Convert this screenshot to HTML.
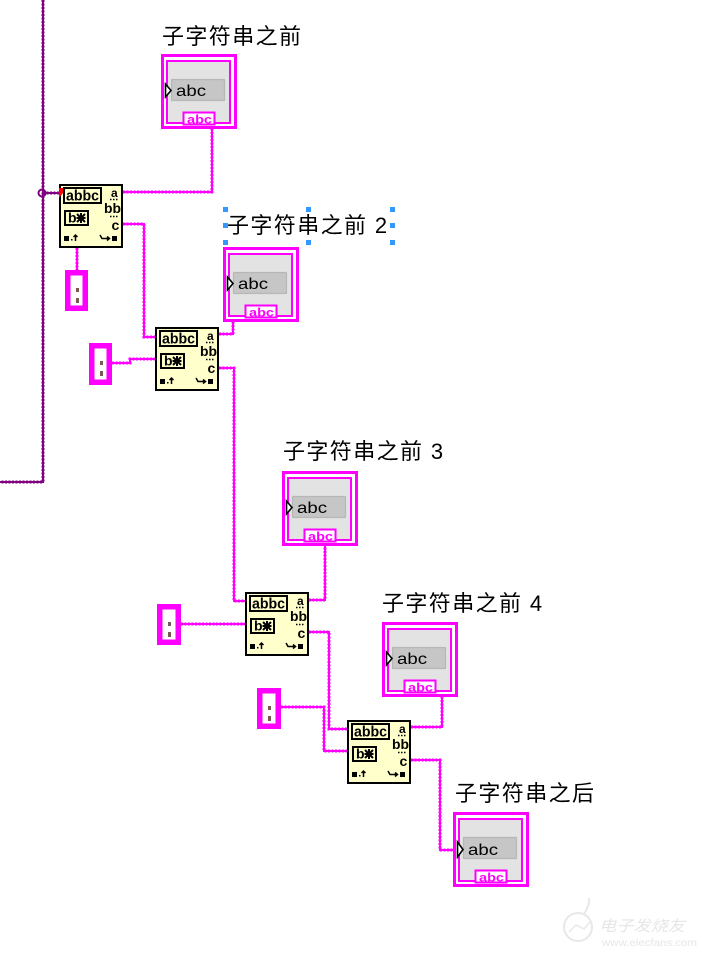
<!DOCTYPE html>
<html><head><meta charset="utf-8"><style>
html,body{margin:0;padding:0;background:#fff;}
svg{display:block;}
.m{fill:none;stroke:#ff00ff;stroke-width:3;stroke-dasharray:2 1.5;}
.ms{fill:none;stroke:#ff00ff;stroke-width:2;}
.p{fill:none;stroke:#800080;stroke-width:3;stroke-dasharray:2 1.5;}
.ps{fill:none;stroke:#800080;stroke-width:2;}
.lbl{font-family:"Liberation Sans","Noto Sans CJK SC",sans-serif;font-size:22px;letter-spacing:1.4px;fill:#000;}
.nt{font-family:"Liberation Sans",sans-serif;font-weight:bold;fill:#000;}
.it{font-family:"Liberation Sans",sans-serif;fill:#000;}
.tg{font-family:"Liberation Sans",sans-serif;fill:#ff00ff;font-weight:bold;}
</style></head><body>
<svg width="707" height="959" viewBox="0 0 707 959" xmlns="http://www.w3.org/2000/svg">
<rect width="707" height="959" fill="#fff"/>

<!-- purple wire -->
<path class="p" d="M43 0 V482 H0"/>
<path class="ps" d="M43 0 V482 H0"/>
<path class="p" d="M43 193 H59"/>
<path class="ps" d="M43 193 H59"/>
<circle cx="42" cy="193" r="3.5" fill="none" stroke="#800080" stroke-width="2"/>

<!-- magenta wires -->
<g>
<path class="m" d="M77 248 V270"/><path class="ms" d="M77 248 V270"/>
<path class="m" d="M123 192 H212 V129"/><path class="ms" d="M123 192 H212 V129"/>
<path class="m" d="M123 224 H144 V337 H155"/><path class="ms" d="M123 224 H144 V337 H155"/>
<path class="m" d="M112 363 H130 V359 H155"/><path class="ms" d="M112 363 H130 V359 H155"/>
<path class="m" d="M219 334 H233 V322"/><path class="ms" d="M219 334 H233 V322"/>
<path class="m" d="M219 368 H234 V601 H245"/><path class="ms" d="M219 368 H234 V601 H245"/>
<path class="m" d="M181 624 H245"/><path class="ms" d="M181 624 H245"/>
<path class="m" d="M309 600 H325 V545"/><path class="ms" d="M309 600 H325 V545"/>
<path class="m" d="M309 632 H329 V729 H347"/><path class="ms" d="M309 632 H329 V729 H347"/>
<path class="m" d="M281 707 H324 V751 H347"/><path class="ms" d="M281 707 H324 V751 H347"/>
<path class="m" d="M411 727 H442 V697"/><path class="ms" d="M411 727 H442 V697"/>
<path class="m" d="M411 760 H440 V850 H457"/><path class="ms" d="M411 760 H440 V850 H457"/>
</g>

<!-- labels -->
<text class="lbl" x="162" y="44">子字符串之前</text>
<text class="lbl" x="227" y="233">子字符串之前 2</text>
<text class="lbl" x="283" y="459">子字符串之前 3</text>
<text class="lbl" x="382" y="611">子字符串之前 4</text>
<text class="lbl" x="455" y="801">子字符串之后</text>

<!-- selection handles -->
<g fill="#3399ff">
<rect x="223" y="207" width="5" height="5"/><rect x="306" y="207" width="5" height="5"/><rect x="390" y="207" width="5" height="5"/>
<rect x="223" y="223" width="5" height="5"/><rect x="390" y="223" width="5" height="5"/>
<rect x="223" y="240" width="5" height="5"/><rect x="306" y="240" width="5" height="5"/><rect x="390" y="240" width="5" height="5"/>
</g>

<!-- indicators -->
<g transform="translate(161,54)">
<rect x="1.5" y="1.5" width="73" height="72" fill="#fff" stroke="#ff00ff" stroke-width="3"/>
<rect x="6" y="7" width="63" height="62" fill="#e3e3e3" stroke="#ff00ff" stroke-width="2"/>
<rect x="10.5" y="25.5" width="53" height="21" fill="#c6c6c6" stroke="#9a9a9a" stroke-width="1.2" stroke-dasharray="1 1"/>
<text class="it" x="15" y="42" font-size="16" textLength="30" lengthAdjust="spacingAndGlyphs">abc</text>
<path d="M4.5 30 L10 36.5 L4.5 43 Z" fill="#fff" stroke="#000" stroke-width="1.6"/>
<rect x="22.5" y="58.5" width="31" height="12" fill="#fff" stroke="#ff00ff" stroke-width="2"/>
<text class="tg" x="26" y="69.5" font-size="12" textLength="25" lengthAdjust="spacingAndGlyphs">abc</text>
</g>
<g transform="translate(223,247)">
<rect x="1.5" y="1.5" width="73" height="72" fill="#fff" stroke="#ff00ff" stroke-width="3"/>
<rect x="6" y="7" width="63" height="62" fill="#e3e3e3" stroke="#ff00ff" stroke-width="2"/>
<rect x="10.5" y="25.5" width="53" height="21" fill="#c6c6c6" stroke="#9a9a9a" stroke-width="1.2" stroke-dasharray="1 1"/>
<text class="it" x="15" y="42" font-size="16" textLength="30" lengthAdjust="spacingAndGlyphs">abc</text>
<path d="M4.5 30 L10 36.5 L4.5 43 Z" fill="#fff" stroke="#000" stroke-width="1.6"/>
<rect x="22.5" y="58.5" width="31" height="12" fill="#fff" stroke="#ff00ff" stroke-width="2"/>
<text class="tg" x="26" y="69.5" font-size="12" textLength="25" lengthAdjust="spacingAndGlyphs">abc</text>
</g>
<g transform="translate(282,471)">
<rect x="1.5" y="1.5" width="73" height="72" fill="#fff" stroke="#ff00ff" stroke-width="3"/>
<rect x="6" y="7" width="63" height="62" fill="#e3e3e3" stroke="#ff00ff" stroke-width="2"/>
<rect x="10.5" y="25.5" width="53" height="21" fill="#c6c6c6" stroke="#9a9a9a" stroke-width="1.2" stroke-dasharray="1 1"/>
<text class="it" x="15" y="42" font-size="16" textLength="30" lengthAdjust="spacingAndGlyphs">abc</text>
<path d="M4.5 30 L10 36.5 L4.5 43 Z" fill="#fff" stroke="#000" stroke-width="1.6"/>
<rect x="22.5" y="58.5" width="31" height="12" fill="#fff" stroke="#ff00ff" stroke-width="2"/>
<text class="tg" x="26" y="69.5" font-size="12" textLength="25" lengthAdjust="spacingAndGlyphs">abc</text>
</g>
<g transform="translate(382,622)">
<rect x="1.5" y="1.5" width="73" height="72" fill="#fff" stroke="#ff00ff" stroke-width="3"/>
<rect x="6" y="7" width="63" height="62" fill="#e3e3e3" stroke="#ff00ff" stroke-width="2"/>
<rect x="10.5" y="25.5" width="53" height="21" fill="#c6c6c6" stroke="#9a9a9a" stroke-width="1.2" stroke-dasharray="1 1"/>
<text class="it" x="15" y="42" font-size="16" textLength="30" lengthAdjust="spacingAndGlyphs">abc</text>
<path d="M4.5 30 L10 36.5 L4.5 43 Z" fill="#fff" stroke="#000" stroke-width="1.6"/>
<rect x="22.5" y="58.5" width="31" height="12" fill="#fff" stroke="#ff00ff" stroke-width="2"/>
<text class="tg" x="26" y="69.5" font-size="12" textLength="25" lengthAdjust="spacingAndGlyphs">abc</text>
</g>
<g transform="translate(453,812)">
<rect x="1.5" y="1.5" width="73" height="72" fill="#fff" stroke="#ff00ff" stroke-width="3"/>
<rect x="6" y="7" width="63" height="62" fill="#e3e3e3" stroke="#ff00ff" stroke-width="2"/>
<rect x="10.5" y="25.5" width="53" height="21" fill="#c6c6c6" stroke="#9a9a9a" stroke-width="1.2" stroke-dasharray="1 1"/>
<text class="it" x="15" y="43" font-size="16" textLength="30" lengthAdjust="spacingAndGlyphs">abc</text>
<path d="M4.5 30 L10 37.5 L4.5 45 Z" fill="#fff" stroke="#000" stroke-width="1.6"/>
<rect x="22.5" y="58.5" width="31" height="12" fill="#fff" stroke="#ff00ff" stroke-width="2"/>
<text class="tg" x="26" y="69.5" font-size="12" textLength="25" lengthAdjust="spacingAndGlyphs">abc</text>
</g>

<!-- constants -->
<g fill="none" stroke="#ff00ff" stroke-width="5.5">
<rect x="67.75" y="272.75" width="17.5" height="35.5"/>
<rect x="91.75" y="345.75" width="17.5" height="36.5"/>
<rect x="159.75" y="606.75" width="18.5" height="35.5"/>
<rect x="259.75" y="690.75" width="18.5" height="35.5"/>
</g>
<g fill="#7a5a50">
<rect x="76" y="288" width="3" height="4"/><rect x="76" y="298" width="3" height="5"/>
<rect x="100" y="361" width="3" height="4"/><rect x="100" y="371" width="3" height="5"/>
<rect x="168" y="622" width="3" height="4"/><rect x="168" y="632" width="3" height="5"/>
<rect x="268" y="706" width="3" height="4"/><rect x="268" y="716" width="3" height="5"/>
</g>

<!-- nodes -->
<g transform="translate(59,184)">
<rect x="1" y="1" width="62" height="62" fill="#ffffcc" stroke="#000" stroke-width="2"/>
<rect x="5" y="4" width="37" height="15" fill="none" stroke="#000" stroke-width="2"/>
<text class="nt" x="7" y="16.5" font-size="15" textLength="33" lengthAdjust="spacingAndGlyphs">abbc</text>
<rect x="6" y="27" width="23" height="14" fill="none" stroke="#000" stroke-width="2"/>
<text class="nt" x="9" y="38.5" font-size="14">b</text>
<path d="M18 30 L26 38 M26 30 L18 38 M22 29 V39 M17.5 34 H26.5" stroke="#000" stroke-width="2" fill="none"/>
<text class="nt" x="52" y="13" font-size="12">a</text>
<path d="M51 15.5 h1.5 M54 15.5 h1.5 M57 15.5 h1.5" stroke="#000" stroke-width="1.5"/>
<text class="nt" x="45" y="29" font-size="14" textLength="17" lengthAdjust="spacingAndGlyphs">bb</text>
<path d="M51 32.5 h1.5 M54 32.5 h1.5 M57 32.5 h1.5" stroke="#000" stroke-width="1.5"/>
<text class="nt" x="52.5" y="46" font-size="14">c</text>
<rect x="5" y="52" width="5" height="5" fill="#000"/>
<rect x="12" y="55" width="1.5" height="1.5" fill="#000"/>
<path d="M16.5 57 V51 M14.5 53 L16.5 51 L18.5 53" stroke="#000" stroke-width="1.5" fill="none"/>
<path d="M41 51 L43 54.5 H50 M48 52.5 L50.5 54.5 L48 56.5" stroke="#000" stroke-width="1.5" fill="none"/>
<rect x="53" y="52" width="5" height="5" fill="#000"/>
</g>
<path d="M59 188 H63 V193 L59 198 Z" fill="#ff0000"/>

<g transform="translate(155,327)">
<rect x="1" y="1" width="62" height="62" fill="#ffffcc" stroke="#000" stroke-width="2"/>
<rect x="5" y="4" width="37" height="15" fill="none" stroke="#000" stroke-width="2"/>
<text class="nt" x="7" y="16.5" font-size="15" textLength="33" lengthAdjust="spacingAndGlyphs">abbc</text>
<rect x="6" y="27" width="23" height="14" fill="none" stroke="#000" stroke-width="2"/>
<text class="nt" x="9" y="38.5" font-size="14">b</text>
<path d="M18 30 L26 38 M26 30 L18 38 M22 29 V39 M17.5 34 H26.5" stroke="#000" stroke-width="2" fill="none"/>
<text class="nt" x="52" y="13" font-size="12">a</text>
<path d="M51 15.5 h1.5 M54 15.5 h1.5 M57 15.5 h1.5" stroke="#000" stroke-width="1.5"/>
<text class="nt" x="45" y="29" font-size="14" textLength="17" lengthAdjust="spacingAndGlyphs">bb</text>
<path d="M51 32.5 h1.5 M54 32.5 h1.5 M57 32.5 h1.5" stroke="#000" stroke-width="1.5"/>
<text class="nt" x="52.5" y="46" font-size="14">c</text>
<rect x="5" y="52" width="5" height="5" fill="#000"/>
<rect x="12" y="55" width="1.5" height="1.5" fill="#000"/>
<path d="M16.5 57 V51 M14.5 53 L16.5 51 L18.5 53" stroke="#000" stroke-width="1.5" fill="none"/>
<path d="M41 51 L43 54.5 H50 M48 52.5 L50.5 54.5 L48 56.5" stroke="#000" stroke-width="1.5" fill="none"/>
<rect x="53" y="52" width="5" height="5" fill="#000"/>
</g>

<g transform="translate(245,592)">
<rect x="1" y="1" width="62" height="62" fill="#ffffcc" stroke="#000" stroke-width="2"/>
<rect x="5" y="4" width="37" height="15" fill="none" stroke="#000" stroke-width="2"/>
<text class="nt" x="7" y="16.5" font-size="15" textLength="33" lengthAdjust="spacingAndGlyphs">abbc</text>
<rect x="6" y="27" width="23" height="14" fill="none" stroke="#000" stroke-width="2"/>
<text class="nt" x="9" y="38.5" font-size="14">b</text>
<path d="M18 30 L26 38 M26 30 L18 38 M22 29 V39 M17.5 34 H26.5" stroke="#000" stroke-width="2" fill="none"/>
<text class="nt" x="52" y="13" font-size="12">a</text>
<path d="M51 15.5 h1.5 M54 15.5 h1.5 M57 15.5 h1.5" stroke="#000" stroke-width="1.5"/>
<text class="nt" x="45" y="29" font-size="14" textLength="17" lengthAdjust="spacingAndGlyphs">bb</text>
<path d="M51 32.5 h1.5 M54 32.5 h1.5 M57 32.5 h1.5" stroke="#000" stroke-width="1.5"/>
<text class="nt" x="52.5" y="46" font-size="14">c</text>
<rect x="5" y="52" width="5" height="5" fill="#000"/>
<rect x="12" y="55" width="1.5" height="1.5" fill="#000"/>
<path d="M16.5 57 V51 M14.5 53 L16.5 51 L18.5 53" stroke="#000" stroke-width="1.5" fill="none"/>
<path d="M41 51 L43 54.5 H50 M48 52.5 L50.5 54.5 L48 56.5" stroke="#000" stroke-width="1.5" fill="none"/>
<rect x="53" y="52" width="5" height="5" fill="#000"/>
</g>

<g transform="translate(347,720)">
<rect x="1" y="1" width="62" height="62" fill="#ffffcc" stroke="#000" stroke-width="2"/>
<rect x="5" y="4" width="37" height="15" fill="none" stroke="#000" stroke-width="2"/>
<text class="nt" x="7" y="16.5" font-size="15" textLength="33" lengthAdjust="spacingAndGlyphs">abbc</text>
<rect x="6" y="27" width="23" height="14" fill="none" stroke="#000" stroke-width="2"/>
<text class="nt" x="9" y="38.5" font-size="14">b</text>
<path d="M18 30 L26 38 M26 30 L18 38 M22 29 V39 M17.5 34 H26.5" stroke="#000" stroke-width="2" fill="none"/>
<text class="nt" x="52" y="13" font-size="12">a</text>
<path d="M51 15.5 h1.5 M54 15.5 h1.5 M57 15.5 h1.5" stroke="#000" stroke-width="1.5"/>
<text class="nt" x="45" y="29" font-size="14" textLength="17" lengthAdjust="spacingAndGlyphs">bb</text>
<path d="M51 32.5 h1.5 M54 32.5 h1.5 M57 32.5 h1.5" stroke="#000" stroke-width="1.5"/>
<text class="nt" x="52.5" y="46" font-size="14">c</text>
<rect x="5" y="52" width="5" height="5" fill="#000"/>
<rect x="12" y="55" width="1.5" height="1.5" fill="#000"/>
<path d="M16.5 57 V51 M14.5 53 L16.5 51 L18.5 53" stroke="#000" stroke-width="1.5" fill="none"/>
<path d="M41 51 L43 54.5 H50 M48 52.5 L50.5 54.5 L48 56.5" stroke="#000" stroke-width="1.5" fill="none"/>
<rect x="53" y="52" width="5" height="5" fill="#000"/>
</g>

<!-- watermark -->
<g>
<circle cx="578" cy="927" r="14" fill="none" stroke="#e8e8e8" stroke-width="2"/>
<path d="M584 914 Q590 905 589 898" fill="none" stroke="#e8e8e8" stroke-width="2"/>
<path d="M569 932 L576 925 L584 929 L590 922" fill="none" stroke="#e8e8e8" stroke-width="1.5"/>
<text x="599" y="931" font-family="'Liberation Sans','Noto Sans CJK SC',sans-serif" font-size="15" font-style="italic" fill="#e6e6e6" textLength="86" lengthAdjust="spacingAndGlyphs">电子发烧友</text>
<text x="602" y="946" font-family="'Liberation Sans',sans-serif" font-size="10" fill="#e6e6e6" textLength="95" lengthAdjust="spacingAndGlyphs">www.elecfans.com</text>
</g>
</svg>
</body></html>
